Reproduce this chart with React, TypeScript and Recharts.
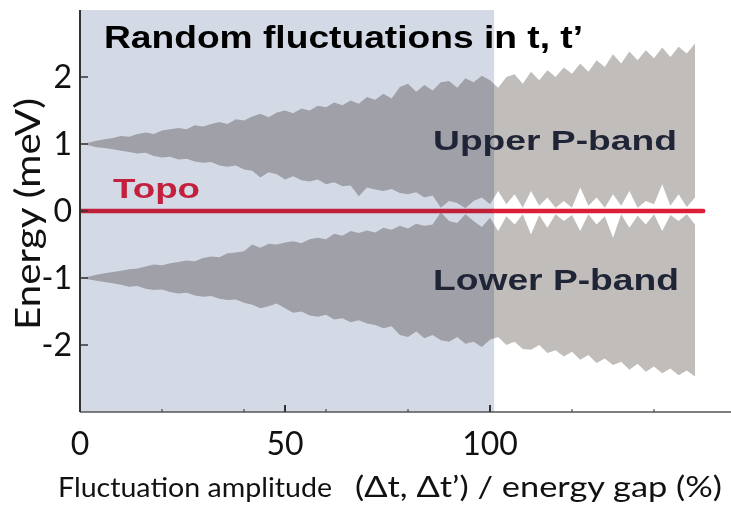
import { ComposedChart, Area, XAxis, YAxis, ReferenceArea, ReferenceLine } from "recharts";

// fluctuation amplitude (% of energy gap)
const amplitude = [
  0, 2, 4, 6, 8, 10, 12, 14, 16, 18, 20, 22, 24, 26, 28, 30, 32, 34, 36, 38,
  40, 42, 44, 46, 48, 50, 52, 54, 56, 58, 60, 62, 64, 66, 68, 70, 72, 74, 76, 78,
  80, 82, 84, 86, 88, 90, 92, 94, 96, 98, 100, 102, 104, 106, 108, 110, 112, 114, 116, 118,
  120, 122, 124, 126, 128, 130, 132, 134, 136, 138, 140, 142, 144, 146, 148, 150,
];

// upper P-band envelope (meV)
const upperHigh = [
  1.0, 1.02, 1.05, 1.07, 1.09, 1.12, 1.11, 1.15, 1.17, 1.15, 1.2, 1.22, 1.24, 1.22, 1.28, 1.26, 1.3, 1.33, 1.3, 1.37,
  1.35, 1.41, 1.45, 1.4, 1.47, 1.5, 1.46, 1.53, 1.5, 1.57, 1.55, 1.62, 1.58, 1.65, 1.6, 1.7, 1.66, 1.75, 1.68, 1.85,
  1.9, 1.78, 1.88, 1.8, 1.92, 1.94, 1.84, 1.98, 1.92, 2.02, 1.95, 1.84, 2.0, 2.04, 1.9, 2.08, 1.95, 2.1, 2.0, 2.14,
  2.05, 2.2, 2.08, 2.25, 2.15, 2.34, 2.2, 2.38, 2.25, 2.4, 2.28, 2.44, 2.3, 2.45, 2.35, 2.5,
];
const upperLow = [
  1.0, 0.98, 0.95, 0.94, 0.92, 0.9, 0.88, 0.86, 0.87, 0.82, 0.8, 0.81, 0.77, 0.78, 0.74, 0.72, 0.73, 0.68, 0.66, 0.68,
  0.62, 0.6, 0.5, 0.58, 0.55, 0.47, 0.52, 0.46, 0.44, 0.47, 0.4, 0.43, 0.37, 0.38, 0.22, 0.35, 0.32, 0.3, 0.33, 0.27,
  0.25, 0.28, 0.2, 0.23, 0.05, 0.15, 0.12, 0.04, 0.15, 0.2, 0.1, 0.3, 0.1, 0.25, 0.05, 0.3, 0.08, 0.2, 0.05, 0.15,
  0.05, 0.35, 0.08, 0.2, 0.05, 0.25, 0.08, 0.3, 0.05, 0.15, 0.1, 0.4, 0.08, 0.25, 0.06, 0.2,
];

// lower P-band envelope (meV)
const lowerHigh = [
  -1.0, -0.98, -0.95, -0.93, -0.91, -0.89, -0.87, -0.86, -0.83, -0.8, -0.81, -0.78, -0.76, -0.74, -0.75, -0.7, -0.68, -0.69, -0.63, -0.62,
  -0.6, -0.5, -0.55, -0.49, -0.5, -0.47, -0.45, -0.48, -0.42, -0.4, -0.42, -0.34, -0.37, -0.3, -0.33, -0.29, -0.32, -0.25, -0.28, -0.22,
  -0.26, -0.19, -0.22, -0.2, -0.02, -0.15, -0.18, -0.05, -0.15, -0.24, -0.1, -0.3, -0.08, -0.2, -0.05, -0.35, -0.06, -0.25, -0.05, -0.15,
  -0.06, -0.3, -0.05, -0.2, -0.08, -0.4, -0.05, -0.25, -0.07, -0.2, -0.05, -0.3, -0.06, -0.15, -0.05, -0.2,
];
const lowerLow = [
  -1.0, -1.02, -1.04, -1.06, -1.08, -1.1, -1.13, -1.12, -1.16, -1.18, -1.17, -1.21, -1.23, -1.22, -1.26, -1.28, -1.27, -1.31, -1.33, -1.32,
  -1.37, -1.4, -1.45, -1.42, -1.38, -1.45, -1.52, -1.5, -1.56, -1.58, -1.55, -1.62, -1.6, -1.66, -1.63, -1.68, -1.7, -1.75, -1.72, -1.85,
  -1.88, -1.8, -1.9, -1.85, -1.93, -1.95, -1.88, -1.98, -1.95, -2.03, -1.92, -1.88, -2.0, -1.95, -2.06, -2.07, -2.0, -2.12, -2.08, -2.17,
  -2.1, -2.22, -2.15, -2.27, -2.2, -2.3, -2.25, -2.37, -2.28, -2.4, -2.32, -2.42, -2.35, -2.45, -2.38, -2.47,
];

// topological state stays at zero energy over the whole scan
const topoRange = [0, 152];
const topoEnergy = 0;

// shaded region: fluctuations up to the energy gap
const shadedRange = [0, 101];

const xLabelTicks = [0, 50, 100];
const xMinorTicks = [20, 40, 60, 80, 120, 140];
const yTicks = [-2, -1, 0, 1, 2];

const data = amplitude.map((x, i) => ({
  x,
  upper: [upperLow[i], upperHigh[i]],
  lower: [lowerLow[i], lowerHigh[i]],
}));

const bottomTicks = [...xLabelTicks, ...xMinorTicks].sort((a, b) => a - b);

function BottomTick({ x, y, payload }: any) {
  const major = xLabelTicks.includes(payload.value);
  return (
    <g>
      <line x1={x} x2={x} y1={y} y2={y - (major ? 7 : 3)} stroke="#333" strokeWidth={major ? 2 : 1} />
      {major && (
        <text x={x} y={y + 43} textAnchor="middle" fontFamily="Lato" fontSize={32} fill="#111">
          {payload.value}
        </text>
      )}
    </g>
  );
}

function TopTick({ x, y }: any) {
  return <line x1={x} x2={x} y1={y} y2={y + 4} stroke="#555" strokeWidth={1} />;
}

function LeftTick({ x, y, payload }: any) {
  return (
    <g>
      <line x1={x} x2={x + 8} y1={y} y2={y} stroke="#333" strokeWidth={1.5} />
      <text x={x - 8} y={y + 11} textAnchor="end" fontFamily="Lato" fontSize={32} fill="#111">
        {payload.value}
      </text>
    </g>
  );
}

function RightTick({ x, y }: any) {
  return <line x1={x - 8} x2={x} y1={y} y2={y} stroke="#333" strokeWidth={1.5} />;
}

function Shade(props: any) {
  const { x, y, width, height } = props;
  return <rect x={x} y={y} width={width} height={height} fill="#d3dae6" style={{ mixBlendMode: "multiply" }} />;
}

export default function App() {
  return (
    <div style={{ position: "absolute", left: 0, top: 0, width: 731, height: 505, overflow: "hidden", background: "#fff" }}>
      <ComposedChart width={740} height={505} data={data} margin={{ top: 10, right: 4, bottom: 0, left: 0 }}>
        <XAxis
          dataKey="x"
          type="number"
          domain={[0, 160]}
          ticks={bottomTicks}
          interval={0}
          height={93}
          tickSize={0}
          tickMargin={0}
          tickLine={false}
          tick={<BottomTick />}
          axisLine={{ stroke: "#555", strokeWidth: 1.5 }}
        />
        <XAxis
          xAxisId="top"
          orientation="top"
          type="number"
          domain={[0, 160]}
          ticks={[...xMinorTicks, 100]}
          interval={0}
          height={0}
          tickSize={0}
          tickMargin={0}
          tickLine={false}
          tick={<TopTick />}
          axisLine={{ stroke: "#777", strokeWidth: 2 }}
        />
        <YAxis
          type="number"
          domain={[-3, 3]}
          ticks={yTicks}
          interval={0}
          width={80}
          tickSize={0}
          tickMargin={0}
          tickLine={false}
          tick={<LeftTick />}
          axisLine={{ stroke: "#333", strokeWidth: 2 }}
        />
        <YAxis
          yAxisId="right"
          orientation="right"
          type="number"
          domain={[-3, 3]}
          ticks={yTicks}
          interval={0}
          width={0}
          tickSize={0}
          tickMargin={0}
          tickLine={false}
          tick={<RightTick />}
          axisLine={{ stroke: "#555", strokeWidth: 1.5 }}
        />
        <Area
          dataKey="upper"
          type="linear"
          fill="#c1bdba"
          fillOpacity={1}
          stroke="none"
          dot={false}
          activeDot={false}
          isAnimationActive={false}
        />
        <Area
          dataKey="lower"
          type="linear"
          fill="#c1bdba"
          fillOpacity={1}
          stroke="none"
          dot={false}
          activeDot={false}
          isAnimationActive={false}
        />
        <ReferenceArea x1={shadedRange[0]} x2={shadedRange[1]} y1={-3} y2={3} shape={Shade} />
        {/* red line looks darker where it sits under the blue shading */}
        <ReferenceLine
          segment={[
            { x: topoRange[0], y: topoEnergy },
            { x: shadedRange[1], y: topoEnergy },
          ]}
          stroke="#c0203a"
          strokeWidth={4.5}
        />
        <ReferenceLine
          segment={[
            { x: shadedRange[1], y: topoEnergy },
            { x: topoRange[1], y: topoEnergy },
          ]}
          stroke="#dc1f36"
          strokeWidth={4.5}
          strokeLinecap="round"
        />
      </ComposedChart>

      <svg width={731} height={505} style={{ position: "absolute", left: 0, top: 0, pointerEvents: "none" }}>
        <text x={104} y={48} fontFamily="Liberation Sans, Arial" fontWeight="bold" fontSize={31} fill="#000" textLength={479} lengthAdjust="spacingAndGlyphs">
          Random fluctuations in t, t’
        </text>
        <text x={113} y={198} fontFamily="Liberation Sans, Arial" fontWeight="bold" fontSize={27} fill="#c2203c" textLength={87} lengthAdjust="spacingAndGlyphs">
          Topo
        </text>
        <text x={433} y={150} fontFamily="Liberation Sans, Arial" fontWeight="bold" fontSize={28} fill="#1f2436" textLength={244} lengthAdjust="spacingAndGlyphs">
          Upper P-band
        </text>
        <text x={433} y={290} fontFamily="Liberation Sans, Arial" fontWeight="bold" fontSize={29} fill="#1f2436" textLength={246} lengthAdjust="spacingAndGlyphs">
          Lower P-band
        </text>
        <text transform="translate(40,214) rotate(-90)" textAnchor="middle" fontFamily="Lato" fontSize={34} fill="#111" textLength={232} lengthAdjust="spacingAndGlyphs">
          Energy (meV)
        </text>
        <text x={58} y={497} fontFamily="Lato" fontSize={26} fill="#111" textLength={274} lengthAdjust="spacingAndGlyphs">
          Fluctuation amplitude
        </text>
        <text x={355} y={497} fontFamily="Lato" fontSize={29} fill="#111" textLength={367} lengthAdjust="spacingAndGlyphs">
          (Δt, Δt’) / energy gap (%)
        </text>
      </svg>
    </div>
  );
}
